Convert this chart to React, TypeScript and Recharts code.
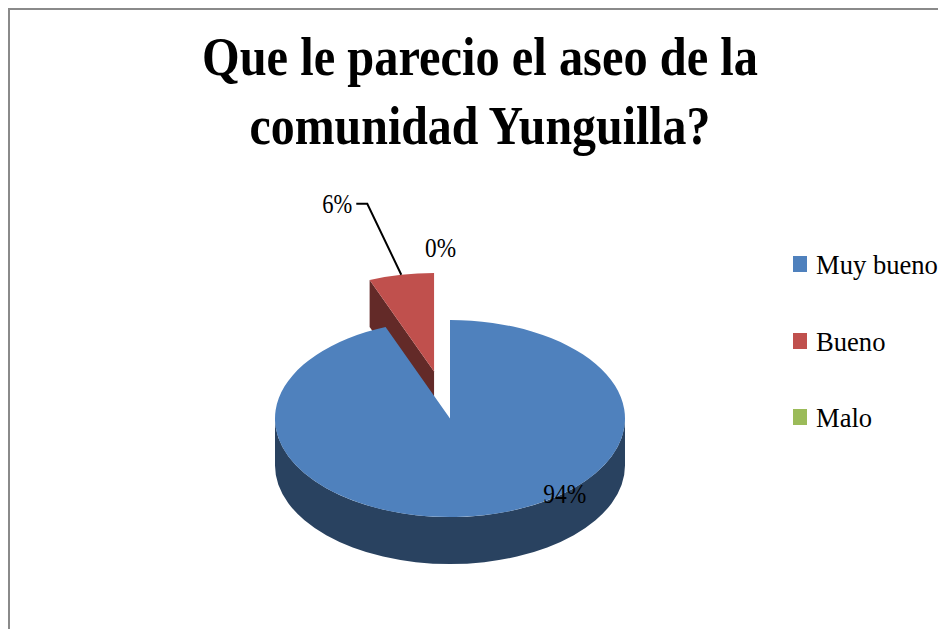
import React from 'react';
import { PieChart, Pie, Cell, Legend } from 'recharts';

const categories = ['Muy bueno', 'Bueno', 'Malo'];
const shares = [94, 6, 0];

const topColors = ['#4f81bd', '#c0504d', '#9bbb59'];
const sideColors = ['#294260', '#632a28', '#50622e'];

const pieData = categories.map((name, i) => ({ name, value: shares[i] }));

const CHART_W = 938;
const CHART_H = 629;
const CX = 450;
const CY = 418.5;
const RADIUS = 175;
const TILT = 0.563; // how much the disc is squashed vertically
const DEPTH = 47;

// pull-out of each slice, in pie radius units
const explode: Record<string, number> = { 'Muy bueno': 0, Bueno: 85, Malo: 0 };
// where the % text sits relative to the slice's rim point, and how wide it is
const labelNudge = [
  { dx: 82, dy: -12, w: 43 },
  { dx: -64, dy: -62, w: 30 },
  { dx: -9.5, dy: -63, w: 31 },
];

const rad = (a: number) => (a * Math.PI) / 180;

const pt = (cx: number, cy: number, r: number, a: number) => ({
  x: cx + r * Math.cos(rad(a)),
  y: cy - r * TILT * Math.sin(rad(a)),
});

const centerOf = (p: any) => {
  const mid = (p.startAngle + p.endAngle) / 2;
  const off = explode[p.name] || 0;
  return pt(p.cx, p.cy, off, mid);
};

const arc = (r: number, to: { x: number; y: number }, large: boolean, sweep: number) =>
  `A ${r} ${r * TILT} 0 ${large ? 1 : 0} ${sweep} ${to.x} ${to.y}`;

// flat top of a slice, as an elliptical wedge
const TopShape = (p: any) => {
  if (p.startAngle === p.endAngle) return <g />;
  const c = centerOf(p);
  const from = pt(c.x, c.y, p.outerRadius, p.startAngle);
  const to = pt(c.x, c.y, p.outerRadius, p.endAngle);
  const large = Math.abs(p.startAngle - p.endAngle) > 180;
  const d = `M ${c.x} ${c.y} L ${from.x} ${from.y} ${arc(p.outerRadius, to, large, 1)} Z`;
  return <path d={d} fill={p.fill} />;
};

// rim and cut face under the slice
const SideShape = (p: any) => {
  if (p.startAngle === p.endAngle) return <g />;
  const c = centerOf(p);
  const r = p.outerRadius;
  const from = pt(c.x, c.y, r, p.startAngle);
  const face = `M ${from.x} ${from.y} L ${c.x} ${c.y} L ${c.x} ${c.y + DEPTH} L ${from.x} ${from.y + DEPTH} Z`;
  const hi = Math.min(p.startAngle, 0);
  const lo = Math.max(p.endAngle, -180);
  let rim = '';
  if (hi > lo) {
    const a = pt(c.x, c.y, r, hi);
    const b = pt(c.x, c.y, r, lo);
    rim = `M ${a.x} ${a.y} ${arc(r, b, false, 1)} L ${b.x} ${b.y + DEPTH} ${arc(r, { x: a.x, y: a.y + DEPTH }, false, 0)} Z`;
  }
  return (
    <g>
      <path d={face} fill={p.fill} />
      {rim && <path d={rim} fill={p.fill} />}
    </g>
  );
};

const rimPoint = (p: any) => {
  const off = explode[p.name] || 0;
  return pt(p.cx, p.cy, p.outerRadius + off, p.midAngle);
};

const renderLabel = (p: any) => {
  const at = rimPoint(p);
  const n = labelNudge[p.index];
  return (
    <text
      x={at.x + n.dx}
      y={at.y + n.dy}
      textAnchor="middle"
      fontFamily="Liberation Serif"
      fontSize={27}
      fill="#000"
      textLength={n.w}
      lengthAdjust="spacingAndGlyphs"
    >
      {`${Math.round(p.percent * 100)}%`}
    </text>
  );
};

const renderLine = (p: any) => {
  if (p.name !== 'Bueno') return <g />;
  const at = rimPoint(p);
  return (
    <path
      d={`M ${at.x} ${at.y} L ${at.x - 34} ${at.y - 71} L ${at.x - 45} ${at.y - 71}`}
      fill="none"
      stroke="#000"
      strokeWidth={2}
    />
  );
};

const renderLegend = (props: any) => {
  // both pie layers report to the legend, keep the top faces only
  const items = categories
    .map((name, i) => (props.payload || []).find((e: any) => e.value === name && e.color === topColors[i]))
    .filter(Boolean);
  return (
    <div style={{ position: 'relative', width: 145, height: 200 }}>
      {items.map((entry: any, i: number) => (
        <div
          key={entry.value}
          style={{ position: 'absolute', left: 0, top: i * 76.5, height: 32, whiteSpace: 'nowrap' }}
        >
          <span
            style={{
              position: 'absolute',
              left: 0,
              top: 7,
              width: 14,
              height: 16,
              background: entry.color,
            }}
          />
          <span
            style={{
              position: 'absolute',
              left: 23,
              top: 0,
              fontFamily: 'Liberation Serif',
              fontSize: 26.6,
              lineHeight: '32px',
              color: '#000',
            }}
          >
            {entry.value}
          </span>
        </div>
      ))}
    </div>
  );
};

const App = () => (
  <div
    style={{
      position: 'absolute',
      left: 0,
      top: 0,
      width: CHART_W,
      height: CHART_H,
      overflow: 'hidden',
    }}
  >
    <div
      style={{
        position: 'absolute',
        left: 8,
        top: 8,
        width: CHART_W - 8,
        height: CHART_H - 8,
        boxSizing: 'border-box',
        borderLeft: '2px solid #8a8a8a',
        borderTop: '2px solid #8a8a8a',
      }}
    />
    <PieChart width={CHART_W} height={CHART_H} margin={{ top: 0, right: 0, bottom: 0, left: 0 }}>
      <text
        x={480}
        y={75}
        textAnchor="middle"
        fontFamily="Liberation Serif"
        fontWeight="bold"
        fontSize={54}
        textLength={556}
        lengthAdjust="spacingAndGlyphs"
      >
        Que le parecio el aseo de la
      </text>
      <text
        x={480}
        y={144}
        textAnchor="middle"
        fontFamily="Liberation Serif"
        fontWeight="bold"
        fontSize={54}
        textLength={461}
        lengthAdjust="spacingAndGlyphs"
      >
        comunidad Yunguilla?
      </text>
      <Pie
        data={pieData}
        dataKey="value"
        nameKey="name"
        cx={CX}
        cy={CY}
        outerRadius={RADIUS}
        startAngle={90}
        endAngle={-270}
        shape={SideShape}
        legendType="none"
        stroke="none"
        isAnimationActive={false}
      >
        {pieData.map((d, i) => (
          <Cell key={d.name} fill={sideColors[i]} />
        ))}
      </Pie>
      <Pie
        data={pieData}
        dataKey="value"
        nameKey="name"
        cx={CX}
        cy={CY}
        outerRadius={RADIUS}
        startAngle={90}
        endAngle={-270}
        shape={TopShape}
        label={renderLabel}
        labelLine={renderLine}
        stroke="none"
        isAnimationActive={false}
      >
        {pieData.map((d, i) => (
          <Cell key={d.name} fill={topColors[i]} />
        ))}
      </Pie>
      <Legend
        content={renderLegend}
        wrapperStyle={{ position: 'absolute', left: 793, top: 249, width: 145 }}
      />
    </PieChart>
  </div>
);

export default App;
